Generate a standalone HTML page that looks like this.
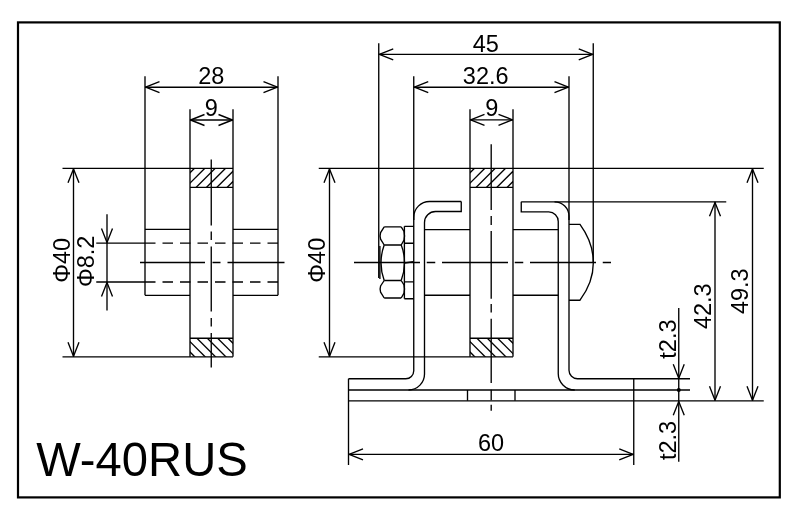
<!DOCTYPE html>
<html><head><meta charset="utf-8"><title>W-40RUS</title>
<style>
html,body{margin:0;padding:0;background:#fff;}
svg{display:block;will-change:transform;}
svg text{font-family:"Liberation Sans",sans-serif;fill:#000;stroke:none;}
</style></head><body>
<svg width="800" height="521" viewBox="0 0 800 521" fill="none" stroke="#000" stroke-width="1.35">
<rect x="0" y="0" width="800" height="521" fill="#fff" stroke="none"/>
<defs><clipPath id="c190"><rect x="190" y="168.3" width="43" height="19.1"/><rect x="190" y="338.2" width="43" height="18.6"/></clipPath><clipPath id="c470"><rect x="470" y="168.3" width="43" height="19.1"/><rect x="470" y="338.2" width="43" height="18.6"/></clipPath></defs>
<rect x="18" y="22.4" width="761.8" height="475" fill="none" stroke-width="2.2"/>
<line x1="190" y1="109.25" x2="190" y2="356.8" />
<line x1="233" y1="109.25" x2="233" y2="356.8" />
<line x1="190" y1="187.4" x2="233" y2="187.4" />
<line x1="190" y1="338.2" x2="233" y2="338.2" />
<g clip-path="url(#c190)">
<line x1="202.8" y1="160" x2="162.8" y2="200" />
<line x1="100" y1="262.0" x2="700" y2="862.0" />
<line x1="213.15000000000003" y1="160" x2="173.15000000000003" y2="200" />
<line x1="100" y1="251.65" x2="700" y2="851.65" />
<line x1="223.5" y1="160" x2="183.5" y2="200" />
<line x1="100" y1="241.3" x2="700" y2="841.3" />
<line x1="233.85000000000002" y1="160" x2="193.85000000000002" y2="200" />
<line x1="100" y1="230.95" x2="700" y2="830.95" />
<line x1="244.2" y1="160" x2="204.2" y2="200" />
<line x1="100" y1="220.6" x2="700" y2="820.6" />
<line x1="254.55" y1="160" x2="214.55" y2="200" />
<line x1="100" y1="210.25" x2="700" y2="810.25" />
</g>
<line x1="145" y1="76.3" x2="145" y2="295.3" />
<line x1="278" y1="76.3" x2="278" y2="295.3" />
<line x1="145" y1="87.2" x2="278" y2="87.2" />
<path d="M159.5 81.7L145.6 87.2L159.5 92.7" stroke-linejoin="round"/>
<path d="M263.5 81.7L277.4 87.2L263.5 92.7" stroke-linejoin="round"/>
<text x="211.3" y="84.2" font-size="23.5" text-anchor="middle">28</text>
<line x1="190" y1="120" x2="233" y2="120" />
<path d="M204.5 114.5L190.6 120L204.5 125.5" stroke-linejoin="round"/>
<path d="M218.5 114.5L232.4 120L218.5 125.5" stroke-linejoin="round"/>
<text x="211.3" y="116.2" font-size="23.5" text-anchor="middle">9</text>
<line x1="145" y1="229.4" x2="190" y2="229.4" />
<line x1="233" y1="229.4" x2="278" y2="229.4" />
<line x1="145" y1="295.3" x2="190" y2="295.3" />
<line x1="233" y1="295.3" x2="278" y2="295.3" />
<line x1="62.5" y1="168.3" x2="233" y2="168.3" />
<line x1="62.5" y1="356.8" x2="233" y2="356.8" />
<line x1="73.5" y1="168.3" x2="73.5" y2="356.8" />
<path d="M68.0 182.8L73.5 168.9L79.0 182.8" stroke-linejoin="round"/>
<path d="M68.0 342.3L73.5 356.2L79.0 342.3" stroke-linejoin="round"/>
<line x1="96.25" y1="243.1" x2="145" y2="243.1" />
<line x1="96.25" y1="282" x2="145" y2="282" />
<line x1="145" y1="243.1" x2="278" y2="243.1" stroke-dasharray="10.5 7"/>
<line x1="145" y1="282" x2="278" y2="282" stroke-dasharray="10.5 7"/>
<line x1="107" y1="214.3" x2="107" y2="310.5" />
<path d="M101.5 228.6L107 242.5L112.5 228.6" stroke-linejoin="round"/>
<path d="M101.5 296.5L107 282.6L112.5 296.5" stroke-linejoin="round"/>
<line x1="140" y1="262.5" x2="284.5" y2="262.5" stroke-dasharray="65 7.5 8 7"/>
<line x1="211.25" y1="159.5" x2="211.25" y2="225.5" />
<line x1="211.25" y1="231.5" x2="211.25" y2="240" />
<line x1="211.25" y1="246.5" x2="211.25" y2="311.5" />
<line x1="211.25" y1="318" x2="211.25" y2="326.5" />
<line x1="211.25" y1="333" x2="211.25" y2="367.5" />
<text x="69.8" y="260.4" font-size="23.5" text-anchor="middle" transform="rotate(-90 69.8 260.4)">Φ40</text>
<text x="94" y="261.4" font-size="23.5" text-anchor="middle" transform="rotate(-90 94 261.4)">Φ8.2</text>
<line x1="470" y1="109.25" x2="470" y2="356.8" />
<line x1="513" y1="109.25" x2="513" y2="356.8" />
<line x1="470" y1="187.4" x2="513" y2="187.4" />
<line x1="470" y1="338.2" x2="513" y2="338.2" />
<g clip-path="url(#c470)">
<line x1="482.79999999999995" y1="160" x2="442.79999999999995" y2="200" />
<line x1="100" y1="-18.0" x2="700" y2="582.0" />
<line x1="493.15" y1="160" x2="453.15" y2="200" />
<line x1="100" y1="-28.349999999999994" x2="700" y2="571.65" />
<line x1="503.5" y1="160" x2="463.5" y2="200" />
<line x1="100" y1="-38.69999999999999" x2="700" y2="561.3" />
<line x1="513.8499999999999" y1="160" x2="473.8499999999999" y2="200" />
<line x1="100" y1="-49.05000000000001" x2="700" y2="550.95" />
<line x1="524.1999999999999" y1="160" x2="484.19999999999993" y2="200" />
<line x1="100" y1="-59.400000000000006" x2="700" y2="540.6" />
<line x1="534.55" y1="160" x2="494.54999999999995" y2="200" />
<line x1="100" y1="-69.75" x2="700" y2="530.25" />
</g>
<line x1="318.75" y1="168.3" x2="763.75" y2="168.3" />
<line x1="318.75" y1="356.8" x2="513" y2="356.8" />
<line x1="329.5" y1="168.3" x2="329.5" y2="356.8" />
<path d="M324.0 182.8L329.5 168.9L335.0 182.8" stroke-linejoin="round"/>
<path d="M324.0 342.3L329.5 356.2L335.0 342.3" stroke-linejoin="round"/>
<text x="325.5" y="260.2" font-size="23.5" text-anchor="middle" transform="rotate(-90 325.5 260.2)">Φ40</text>
<line x1="378.75" y1="43.25" x2="378.75" y2="278" />
<line x1="593.25" y1="43.25" x2="593.25" y2="262.5" />
<line x1="378.75" y1="54.4" x2="593.25" y2="54.4" />
<path d="M393.25 48.9L379.35 54.4L393.25 59.9" stroke-linejoin="round"/>
<path d="M578.75 48.9L592.65 54.4L578.75 59.9" stroke-linejoin="round"/>
<text x="485.7" y="51.5" font-size="23.5" text-anchor="middle">45</text>
<line x1="413.75" y1="76.25" x2="413.75" y2="220" />
<line x1="569" y1="76.25" x2="569" y2="220" />
<line x1="413.75" y1="87.2" x2="569" y2="87.2" />
<path d="M428.25 81.7L414.35 87.2L428.25 92.7" stroke-linejoin="round"/>
<path d="M554.5 81.7L568.4 87.2L554.5 92.7" stroke-linejoin="round"/>
<text x="485.7" y="84.2" font-size="23.5" text-anchor="middle">32.6</text>
<line x1="470" y1="119.8" x2="513" y2="119.8" />
<path d="M484.5 114.3L470.6 119.8L484.5 125.3" stroke-linejoin="round"/>
<path d="M498.5 114.3L512.4 119.8L498.5 125.3" stroke-linejoin="round"/>
<text x="491.8" y="116.2" font-size="23.5" text-anchor="middle">9</text>
<line x1="354" y1="262.5" x2="611" y2="262.5" stroke-dasharray="66 6.75 8.5 6.75"/>
<line x1="491.2" y1="144.25" x2="491.2" y2="210" />
<line x1="491.2" y1="216" x2="491.2" y2="225" />
<line x1="491.2" y1="231" x2="491.2" y2="298.75" />
<line x1="491.2" y1="304" x2="491.2" y2="312.5" />
<line x1="491.2" y1="318.75" x2="491.2" y2="383" />
<line x1="491.2" y1="389.7" x2="491.2" y2="400.3" />
<line x1="491.2" y1="404.7" x2="491.2" y2="410.7" />
<line x1="424.5" y1="229.6" x2="470" y2="229.6" />
<line x1="513" y1="229.6" x2="558.25" y2="229.6" />
<line x1="424.5" y1="295.2" x2="470" y2="295.2" />
<line x1="513" y1="295.2" x2="558.25" y2="295.2" />
<path d="M461.25 201.5 L429.5 201.5 A15.75 15.75 0 0 0 413.75 217.25 L413.75 370.75 A8 8 0 0 1 405.75 378.75 L348.5 378.75" />
<path d="M461.25 201.5 L461.25 211.5 L435.5 211.5 A11 11 0 0 0 424.5 222.5 L424.5 373.5 A16 16 0 0 1 408.5 390.0" />
<path d="M521.25 201.8 L554.5 201.8 A14.5 14.5 0 0 1 569 216.3 L569 370.25 A8.5 8.5 0 0 0 577.5 378.75 L690 378.75" />
<path d="M521.25 201.8 L521.25 211.9 L548.75 211.9 A9.5 9.5 0 0 1 558.25 221.4 L558.25 373 A16.5 16.5 0 0 0 574.75 390.0" />
<line x1="348.5" y1="378.75" x2="348.5" y2="465" />
<line x1="348.5" y1="390.0" x2="690" y2="390.0" />
<line x1="348.5" y1="400.8" x2="763.75" y2="400.8" />
<line x1="467.5" y1="390.0" x2="467.5" y2="400.8" />
<line x1="515" y1="390.0" x2="515" y2="400.8" />
<line x1="633.75" y1="378.75" x2="633.75" y2="465" />
<line x1="348.5" y1="454.4" x2="633.75" y2="454.4" />
<path d="M363.0 448.9L349.1 454.4L363.0 459.9" stroke-linejoin="round"/>
<path d="M619.25 448.9L633.15 454.4L619.25 459.9" stroke-linejoin="round"/>
<text x="491" y="451.2" font-size="23.5" text-anchor="middle">60</text>
<line x1="554.5" y1="201.8" x2="726.25" y2="201.8" />
<line x1="715" y1="201.8" x2="715" y2="400.8" />
<path d="M709.5 216.3L715 202.4L720.5 216.3" stroke-linejoin="round"/>
<path d="M709.5 386.3L715 400.2L720.5 386.3" stroke-linejoin="round"/>
<line x1="752.5" y1="168.3" x2="752.5" y2="400.8" />
<path d="M747.0 182.8L752.5 168.9L758.0 182.8" stroke-linejoin="round"/>
<path d="M747.0 386.3L752.5 400.2L758.0 386.3" stroke-linejoin="round"/>
<text x="711.3" y="306.2" font-size="23.5" text-anchor="middle" transform="rotate(-90 711.3 306.2)">42.3</text>
<text x="748.4" y="291.2" font-size="23.5" text-anchor="middle" transform="rotate(-90 748.4 291.2)">49.3</text>
<line x1="678.75" y1="308" x2="678.75" y2="461.75" />
<path d="M673.25 364.25L678.75 378.15L684.25 364.25" stroke-linejoin="round"/>
<path d="M673.25 415.3L678.75 401.40000000000003L684.25 415.3" stroke-linejoin="round"/>
<circle cx="678.75" cy="390.0" r="2" fill="#000" stroke="none"/>
<text x="676" y="339.1" font-size="23.5" text-anchor="middle" transform="rotate(-90 676 339.1)">t2.3</text>
<text x="675.8" y="440.5" font-size="23.5" text-anchor="middle" transform="rotate(-90 675.8 440.5)">t2.3</text>
<path d="M569 224.4 L580 224.4 Q593.5 243 593.3 262.5 Q593.5 282 580 300.2 L569 300.2" />
<path d="M404.4 226.3 L413.75 226.3 M404.4 298.7 L413.75 298.7 M404.4 243.2 L413.75 243.2 M404.4 281.8 L413.75 281.8 M404.4 226.3 L404.4 298.7" />
<path d="M404.5 263 L413.3 261.7" stroke-width="1.6"/>
<path d="M384.2 226.9 L401.2 226.9 M384.2 245.0 L401.2 245.0 M384.2 280.5 L401.2 280.5 M384.2 298.0 L401.2 298.0" />
<path d="M384.2 226.9 L380.6 232.6 Q379.6 235.85 380.6 239.1 L384.2 245.0" />
<path d="M401.2 226.9 L404 231.5 Q405 235.85 404 240.2 L401.2 245.0" />
<path d="M384.2 280.5 L380.6 286 Q379.6 289.1 380.6 292.2 L384.2 298.0" />
<path d="M401.2 280.5 L404 285 Q405 289.1 404 293.2 L401.2 298.0" />
<path d="M384.2 245.0 Q377.8 262.6 384.2 280.5" />
<line x1="379.9" y1="246" x2="379.9" y2="279" />
<path d="M401.2 245.0 Q404.6 253 404.4 262.5 Q404.6 272 401.2 280.5" />
<text x="36.2" y="476.3" font-size="47.2" text-anchor="start">W-40RUS</text>
</svg>
</body></html>
